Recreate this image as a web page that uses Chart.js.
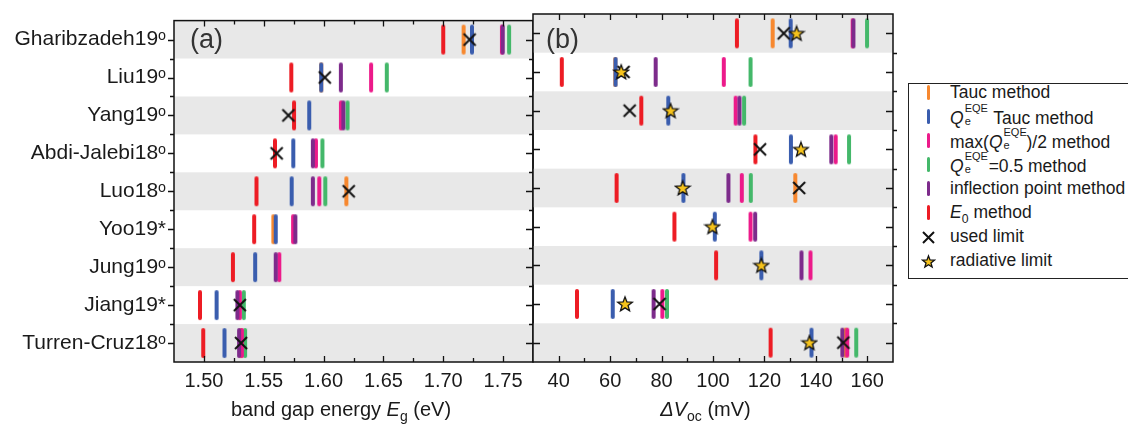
<!DOCTYPE html>
<html>
<head>
<meta charset="utf-8">
<script src="https://cdn.jsdelivr.net/npm/chart.js@4.4.1/dist/chart.umd.min.js"></script>
<style>
    body { margin: 0; background: #fff; }
    #wrap { position: relative; width: 1128px; height: 427px; overflow: hidden;
            font-family: "Liberation Sans", Arial, sans-serif; color: #1a1a1a; }
    canvas { position: absolute; top: 0; }
    .lbl { position: absolute; white-space: nowrap; }
    .panel { font-size: 27px; color: #333; top: 24px; }
    .title { font-size: 20px; top: 398px; text-align: center; }
    #legend { position: absolute; left: 908px; top: 83px; width: 240px; height: 196px;
              border: 1px solid #222; box-sizing: border-box; font-size: 17.5px; }
    #legend .row { position: absolute; left: 41px; white-space: nowrap; }
    #legend .mk { position: absolute; left: 18px; width: 3px; height: 15px; border-radius: 1.5px; }
    .ss { position: relative; display: inline-block; width: 25px; height: 1em; }
    .ss .u { position: absolute; left: 1px; top: -4px; font-size: 11px; }
    .ss .d { position: absolute; left: 1px; top: 9px; font-size: 11px; }
    sub { font-size: 70%; }
</style>
</head>
<body>
<div id="wrap">
    <canvas id="chartA" width="545" height="427" style="left:0"></canvas>
    <canvas id="chartB" width="384" height="427" style="left:521px"></canvas>

    <div class="lbl panel" style="left:190px">(a)</div>
    <div class="lbl panel" style="left:546px">(b)</div>

    <div class="lbl title" style="left:174px;width:334px">band gap energy <i>E</i><sub>g</sub> (eV)</div>
    <div class="lbl title" style="left:533px;width:345px"><i>ΔV</i><sub>oc</sub> (mV)</div>

    <div id="legend"></div>
</div>

<script>
// righe (studi)
const rows = ["Gharibzadeh19ᵒ", "Liu19ᵒ", "Yang19ᵒ", "Abdi-Jalebi18ᵒ", "Luo18ᵒ",
              "Yoo19*", "Jung19ᵒ", "Jiang19*", "Turren-Cruz18ᵒ"];

// pannello (a): band gap energy (eV)
const gapTauc   = [1.717, 1.598, null, null, 1.619, 1.558, null, null, 1.531];
const gapQTauc  = [1.724, 1.598, 1.588, 1.5747, 1.5733, 1.560, 1.5428, 1.5106, 1.5172];
const gapHalf   = [1.749, 1.6397, 1.6145, 1.5936, 1.5964, 1.5745, 1.563, 1.530, 1.5317];
const gapQ05    = [1.755, 1.6528, 1.620, 1.599, 1.6014, null, null, 1.5333, 1.5344];
const gapInfl   = [1.7497, 1.6144, 1.6165, 1.591, 1.591, 1.5764, 1.560, 1.528, 1.5294];
const gapE0     = [1.700, 1.573, 1.5753, 1.5594, 1.5439, 1.542, 1.5242, 1.4967, 1.4994];
const gapUsed   = [1.722, 1.601, 1.5706, 1.5608, 1.621, null, null, 1.530, 1.531];
const gapTicks  = [1.50, 1.55, 1.60, 1.65, 1.70, 1.75];

// pannello (b): delta Voc (mV)
const vocTauc   = [123.2, 62.0, null, null, 132.0, null, null, null, 151.5];
const vocQTauc  = [130.2, 62.1, 82.6, 130.3, 88.5, 100.7, 118.8, 61.0, 138.3];
const vocHalf   = [154.3, 104.2, 108.8, 147.7, 111.2, 114.6, 137.9, 80.3, 152.2];
const vocQ05    = [159.9, 114.6, 112.1, 152.9, 114.7, null, null, 82.1, 155.7];
const vocInfl   = [154.6, 77.7, 110.3, 146.0, 106.0, 116.4, 134.4, 76.9, 150.3];
const vocE0     = [109.3, 41.2, 72.1, 116.5, 62.5, 85.0, 101.2, 47.1, 122.4];
const vocUsed   = [127.5, 65.2, 67.6, 118.3, 133.5, null, null, 79.2, 150.7];
const vocRad    = [132.5, 64.3, 83.5, 134.2, 88.2, 99.8, 118.8, 65.8, 137.5];
const vocTicks  = [40, 60, 80, 100, 120, 140, 160];

const colors = {
    tauc: "#f7882f", qtauc: "#3a5dae", half: "#ec1a8a",
    q05: "#44b86a", infl: "#7d2b8b", e0: "#ed1c24"
};

// immagini per i marker
function makeBar(color) {
    const c = document.createElement("canvas");
    c.width = 6; c.height = 32;
    const g = c.getContext("2d");
    g.strokeStyle = color; g.lineWidth = 4; g.lineCap = "round";
    g.beginPath(); g.moveTo(3, 3); g.lineTo(3, 29); g.stroke();
    return c;
}
function makeCross(size) {
    const c = document.createElement("canvas");
    c.width = c.height = size;
    const g = c.getContext("2d");
    g.strokeStyle = "#111"; g.lineWidth = 2;
    g.beginPath();
    g.moveTo(2, 2); g.lineTo(size - 2, size - 2);
    g.moveTo(size - 2, 2); g.lineTo(2, size - 2);
    g.stroke();
    return c;
}
function makeStar(size) {
    const c = document.createElement("canvas");
    c.width = c.height = size;
    const g = c.getContext("2d");
    const m = size / 2, R = size / 2 - 1.3, r = R * 0.42;
    g.beginPath();
    for (let k = 0; k < 10; k++) {
        const rr = k % 2 ? r : R;
        const a = -Math.PI / 2 + k * Math.PI / 5;
        g.lineTo(m + rr * Math.cos(a), m + 0.6 + rr * Math.sin(a));
    }
    g.closePath();
    g.fillStyle = "#f6c31c"; g.fill();
    g.lineWidth = 1.3; g.strokeStyle = "#111"; g.stroke();
    return c;
}

function toPoints(vals) {
    const pts = [];
    vals.forEach((v, i) => { if (v !== null) pts.push({ x: v, y: i }); });
    return pts;
}

// il dataset 0 viene disegnato sopra
function buildDatasets(s) {
    const list = [];
    if (s.rad) list.push({ data: toPoints(s.rad), pointStyle: makeStar(18) });
    if (s.used) list.push({ data: toPoints(s.used), pointStyle: makeCross(16) });
    list.push({ data: toPoints(s.infl), pointStyle: makeBar(colors.infl) });
    list.push({ data: toPoints(s.qtauc), pointStyle: makeBar(colors.qtauc) });
    list.push({ data: toPoints(s.half), pointStyle: makeBar(colors.half) });
    list.push({ data: toPoints(s.q05), pointStyle: makeBar(colors.q05) });
    list.push({ data: toPoints(s.e0), pointStyle: makeBar(colors.e0) });
    list.push({ data: toPoints(s.tauc), pointStyle: makeBar(colors.tauc) });
    return list.map(d => Object.assign(d, { pointRadius: 8, showLine: false }));
}

// fasce grigie alternate
const bandsPlugin = {
    id: "bands",
    beforeDatasetsDraw(chart) {
        const { ctx, chartArea: a, scales: { y } } = chart;
        ctx.save();
        ctx.fillStyle = "#e8e8e8";
        rows.forEach((r, i) => {
            if (i % 2 === 0) {
                const y0 = y.getPixelForValue(i - 0.5), y1 = y.getPixelForValue(i + 0.5);
                ctx.fillRect(a.left, Math.min(y0, y1), a.right - a.left, Math.abs(y1 - y0));
            }
        });
        ctx.restore();
    }
};

// cornice e tacche verso l'interno
const framePlugin = {
    id: "frame",
    afterDatasetsDraw(chart, args, opts) {
        const { ctx, chartArea: a, scales: { x, y } } = chart;
        ctx.save();
        ctx.strokeStyle = "#111";
        ctx.lineWidth = 1.5;
        ctx.strokeRect(a.left, a.top, a.right - a.left, a.bottom - a.top);
        ctx.lineWidth = 1.3;
        ctx.beginPath();
        opts.minor.forEach(v => {
            const px = Math.round(x.getPixelForValue(v)) + 0.5;
            const len = opts.major.includes(v) ? 6 : 4;
            ctx.moveTo(px, a.bottom); ctx.lineTo(px, a.bottom - len);
            ctx.moveTo(px, a.top); ctx.lineTo(px, a.top + len);
        });
        rows.forEach((r, i) => {
            const py = Math.round(y.getPixelForValue(i)) + 0.5;
            const pb = Math.round(y.getPixelForValue(i + 0.5)) + 0.5;
            if (opts.left) {
                ctx.moveTo(a.left, py); ctx.lineTo(a.left - 6, py);
                if (i < rows.length - 1) { ctx.moveTo(a.left, pb); ctx.lineTo(a.left - 4, pb); }
                ctx.moveTo(a.right - 7, py); ctx.lineTo(a.right, py);
                if (i < rows.length - 1) { ctx.moveTo(a.right, pb); ctx.lineTo(a.right - 4, pb); }
            } else {
                ctx.moveTo(a.left, py); ctx.lineTo(a.left + 7, py);
                ctx.moveTo(a.right - 7, py); ctx.lineTo(a.right, py);
                if (i < rows.length - 1) { ctx.moveTo(a.right, pb); ctx.lineTo(a.right + 4, pb); }
            }
        });
        ctx.stroke();
        ctx.restore();
    }
};

function makeChart(id, series, xMin, xMax, ticks, minor, isLeft, fmt, padL, padR) {
    return new Chart(document.getElementById(id), {
        type: "scatter",
        data: { datasets: buildDatasets(series) },
        options: {
            responsive: false,
            animation: false,
            events: [],
            layout: { padding: { left: padL, right: padR, top: 14, bottom: 0 } },
            plugins: {
                legend: { display: false },
                tooltip: { enabled: false },
                frame: { major: ticks, minor: minor, left: isLeft }
            },
            scales: {
                x: {
                    type: "linear", min: xMin, max: xMax,
                    afterBuildTicks: s => { s.ticks = ticks.map(v => ({ value: v })); },
                    afterFit: s => { s.height = 65; },
                    grid: { display: false, drawTicks: false },
                    border: { display: false },
                    ticks: {
                        autoSkip: false, maxRotation: 0, padding: 7, color: "#1a1a1a",
                        font: { family: "Liberation Sans", size: 20 },
                        callback: v => fmt(v)
                    }
                },
                y: {
                    type: "linear", min: -0.5, max: 8.5, reverse: true, display: isLeft,
                    afterBuildTicks: s => { s.ticks = rows.map((r, i) => ({ value: i })); },
                    afterFit: s => { s.width = isLeft ? 174 : 0; },
                    grid: { display: false, drawTicks: false },
                    border: { display: false },
                    ticks: {
                        autoSkip: false, padding: 8, color: "#1a1a1a",
                        font: { family: "Liberation Sans", size: 21 },
                        callback: v => rows[v]
                    }
                }
            }
        },
        plugins: [bandsPlugin, framePlugin]
    });
}

const gapMinor = [1.50, 1.525, 1.55, 1.575, 1.60, 1.625, 1.65, 1.675, 1.70, 1.725, 1.75];
const vocMinor = [40, 50, 60, 70, 80, 90, 100, 110, 120, 130, 140, 150, 160];

makeChart("chartA",
    { tauc: gapTauc, qtauc: gapQTauc, half: gapHalf, q05: gapQ05, infl: gapInfl, e0: gapE0, used: gapUsed },
    1.475, 1.775, gapTicks, gapMinor, true, v => v.toFixed(2), 0, 12);

makeChart("chartB",
    { tauc: vocTauc, qtauc: vocQTauc, half: vocHalf, q05: vocQ05, infl: vocInfl, e0: vocE0, used: vocUsed, rad: vocRad },
    30, 170, vocTicks, vocMinor, false, v => String(v), 12, 12);

// legenda
const Q = '<i>Q</i><span class="ss"><span class="u">EQE</span><span class="d">e</span></span>';
const legendItems = [
    { color: colors.tauc, html: "Tauc method" },
    { color: colors.qtauc, html: Q + " Tauc method" },
    { color: colors.half, html: "max(" + Q.replace('class="ss"', 'class="ss" style="width:24px"') + ")/2 method" },
    { color: colors.q05, html: Q + "=0.5 method" },
    { color: colors.infl, html: "inflection point method" },
    { color: colors.e0, html: "<i>E</i><sub>0</sub> method" },
    { mark: "cross", html: "used limit" },
    { mark: "star", html: "radiative limit" }
];
const legend = document.getElementById("legend");
legendItems.forEach((it, k) => {
    const top = 8 + k * 24;
    const row = document.createElement("div");
    row.className = "row";
    row.style.top = (top - 10) + "px";
    row.innerHTML = it.html;
    legend.appendChild(row);
    if (it.color) {
        const m = document.createElement("div");
        m.className = "mk";
        m.style.background = it.color;
        m.style.top = (top - 7) + "px";
        legend.appendChild(m);
    } else {
        const img = it.mark === "cross" ? makeCross(15) : makeStar(15);
        img.style.position = "absolute";
        img.style.left = "12px";
        img.style.top = (top - 6) + "px";
        legend.appendChild(img);
    }
});
</script>
</body>
</html>
